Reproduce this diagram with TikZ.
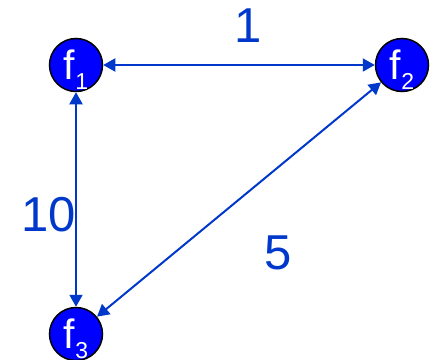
\documentclass[tikz,border=0pt]{standalone}
\usepackage{fontspec}
\setmainfont{Liberation Sans}
\usetikzlibrary{arrows.meta}
\definecolor{linkblue}{RGB}{0,56,204}
\tikzstyle{fnode} = [circle, minimum size=53pt, inner sep=0pt, draw=black, line width=1.5pt, fill=blue]
\tikzstyle{arrow} = [linkblue, line width=2pt, {Triangle[length=12pt,width=13pt]}-{Triangle[length=12pt,width=13pt]}]
\tikzstyle{weight} = [linkblue, font=\fontsize{49}{49}\selectfont]
\newcommand{\fname}[1]{\fontsize{41}{41}\selectfont f\raisebox{-10pt}{\fontsize{23}{23}\selectfont #1}}

\begin{document}
\begin{tikzpicture}[x=1pt, y=-1pt]
	\useasboundingbox (0,0) rectangle (436,359);

	\node (f1) [fnode, label={[white, yshift=-5pt]center:\fname{1}}] at (76,65) {};
	\node (f2) [fnode, label={[white, yshift=-5pt]center:\fname{2}}] at (402,65) {};
	\node (f3) [fnode, label={[white, yshift=-5pt]center:\fname{3}}] at (76,334) {};

	\draw[arrow] (f1) -- (f2);
	\draw[arrow] (f1) -- (f3);
	\draw[arrow] (f2) -- (f3);

	\node (w12) [weight] at (248,26) {1};
	\node (w13) [weight] at (49,215) {10};
	\node (w23) [weight] at (278,253) {5};

\end{tikzpicture}
\end{document}
